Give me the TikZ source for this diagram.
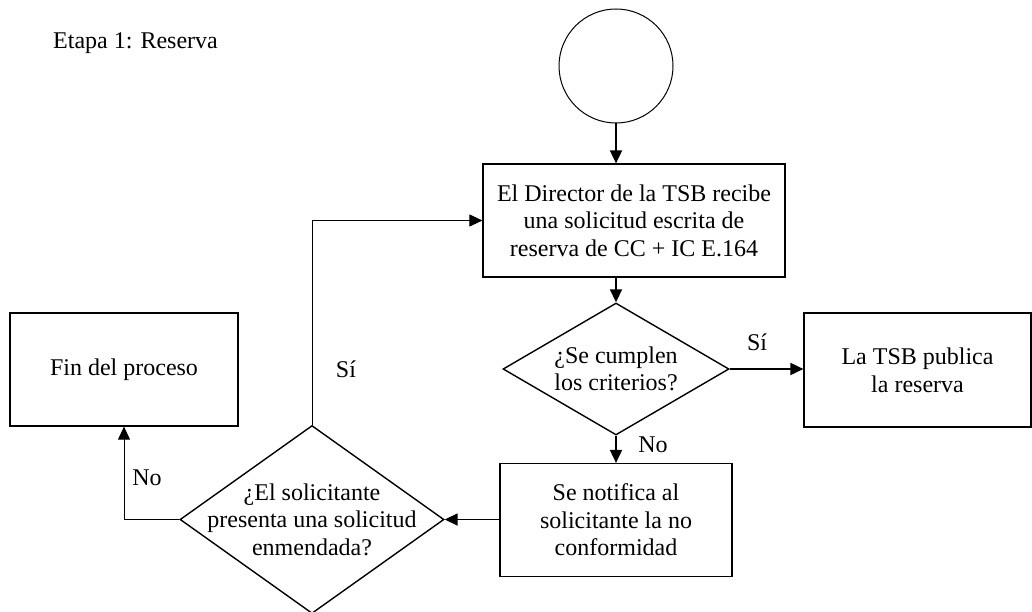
\documentclass[tikz,border=0pt]{standalone}
\usepackage{fontspec}
\setmainfont{Liberation Serif}
\usetikzlibrary{arrows.meta,shapes.geometric}
\begin{document}
\begin{tikzpicture}[x=1pt,y=-1pt,
  every node/.style={font=\fontsize{24}{27.6}\selectfont, text=black},
  boxnode/.style={draw, line width=1.2pt, inner sep=0pt, align=center},
  dmd/.style={draw, diamond, line width=1.4pt, inner sep=0pt},
  txt/.style={inner sep=0pt, align=center},
  conn/.style={line width=1.8pt, -{Triangle[length=13pt,width=12pt]}},
  connthin/.style={line width=1pt, -{Triangle[length=13pt,width=12pt]}}
]
\useasboundingbox (0,0) rectangle (1032,612);
\fill[white] (0,0) rectangle (1032,612);

\node[txt, anchor=base west] (title) at (53,49) {Etapa 1: Reserva};

\node[draw, circle, minimum size=114pt, inner sep=0pt, line width=1pt] (start) at (616,66) {};

\node[boxnode, minimum width=302pt, minimum height=113pt] (box1) at (634,220.5)
  {El Director de la TSB recibe\\una solicitud escrita de\\reserva de CC + IC E.164};

\node[dmd, minimum width=226pt, minimum height=132pt] (dia1) at (616,369) {};
\node[txt] (dia1t) at (dia1.center) {¿Se cumplen\\los criterios?};

\node[boxnode, minimum width=227pt, minimum height=114pt] (box3) at (917.5,370)
  {La TSB publica\\la reserva};

\node[boxnode, minimum width=232pt, minimum height=113pt] (box4) at (616,520)
  {Se notifica al\\solicitante la no\\conformidad};

\node[dmd, minimum width=264pt, minimum height=188pt] (dia2) at (312,519.5) {};
\node[txt] (dia2t) at (dia2.center) {¿El solicitante\\presenta una solicitud\\enmendada?};

\node[boxnode, minimum width=228pt, minimum height=113pt] (fin) at (124,369.5)
  {Fin del proceso};

\draw[conn] (start.south) -- (start.south |- box1.north);
\draw[conn] (dia1.north |- box1.south) -- (dia1.north);
\draw[conn] (dia1.east) -- (dia1.east -| box3.west);
\draw[conn] (dia1.south) -- (box4.north);
\draw[conn] (dia2.east -| box4.west) -- (dia2.east);
\draw[connthin] (dia2.west) -| (fin.south);
\draw[connthin] (dia2.north) |- (box1.west);

\node[txt, anchor=base] (lsi1) at (757,350) {Sí};
\node[txt, anchor=base] (lno1) at (653,452) {No};
\node[txt, anchor=base] (lsi2) at (346,377) {Sí};
\node[txt, anchor=base] (lno2) at (147,485) {No};
\end{tikzpicture}
\end{document}
